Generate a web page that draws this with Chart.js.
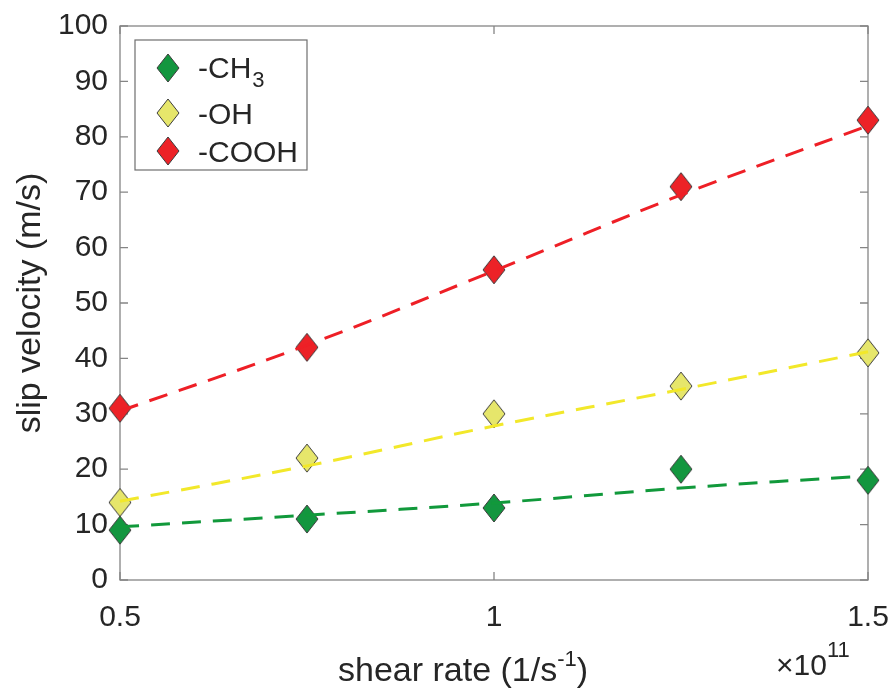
<!DOCTYPE html>
<html>
<head>
<meta charset="utf-8">
<script src="https://cdn.jsdelivr.net/npm/chart.js@4"></script>
<style>
  html, body { margin: 0; padding: 0; background: #fff; }
  #wrap { width: 889px; height: 690px; position: relative; }
</style>
</head>
<body>
<div id="wrap"><canvas id="slipChart" width="889" height="690"></canvas></div>
<script>
// shear rate in units of 1e11 1/s
const shearRate = [0.5, 0.75, 1.0, 1.25, 1.5];

const ch3Slip = [9, 11, 13, 20, 18];
const ohSlip = [14, 22, 30, 35, 41];
const coohSlip = [31, 42, 56, 71, 83];

// dashed fit curves
const ch3Fit = [9.6, 11.7, 13.9, 16.6, 18.8];
const ohFit = [14.2, 20.6, 27.8, 34.4, 41.2];
const coohFit = [30.5, 42.4, 55.8, 69.5, 82.0];

const seriesNames = ['-CH3', '-OH', '-COOH'];
const xTicks = [0.5, 1, 1.5];

const FONT = "'Liberation Sans', Arial, Helvetica, sans-serif";
const TEXT = '#262626';
const AXIS = '#858585';

function makeDiamond(fill) {
    const c = document.createElement('canvas');
    c.width = 24;
    c.height = 30;
    const g = c.getContext('2d');
    g.beginPath();
    g.moveTo(12, 1);
    g.lineTo(23, 15);
    g.lineTo(12, 29);
    g.lineTo(1, 15);
    g.closePath();
    g.fillStyle = fill;
    g.fill();
    g.strokeStyle = '#3c3c3c';
    g.lineWidth = 1;
    g.stroke();
    return c;
}

const markers = [makeDiamond('#13963f'), makeDiamond('#e6e66b'), makeDiamond('#ec2227')];
const lineColors = ['#11993b', '#f2e82a', '#ee1f26'];

function pts(ys) {
    return shearRate.map((x, i) => ({ x: x, y: ys[i] }));
}

function fitSet(ys, color) {
    return {
        data: pts(ys),
        showLine: true,
        borderColor: color,
        borderWidth: 3,
        borderDash: [19, 12],
        pointRadius: 0,
        tension: 0.4,
        clip: false,
        order: 0,
        isFit: true
    };
}

function markerSet(name, ys, img) {
    return {
        label: name,
        data: pts(ys),
        showLine: false,
        pointStyle: img,
        pointRadius: 12,
        clip: false,
        order: 1
    };
}

// box, inward ticks, x title, exponent and legend
const decor = {
    id: 'decor',
    beforeDatasetsDraw(chart) {
        const ctx = chart.ctx;
        const a = chart.chartArea;
        const xs = chart.scales.x;
        const ys = chart.scales.y;
        ctx.save();
        ctx.strokeStyle = AXIS;
        ctx.lineWidth = 1.3;
        ctx.strokeRect(a.left, a.top, a.right - a.left, a.bottom - a.top);
        ctx.beginPath();
        for (let v = 0; v <= 100; v += 10) {
            const py = ys.getPixelForValue(v);
            ctx.moveTo(a.left, py); ctx.lineTo(a.left + 8, py);
            ctx.moveTo(a.right, py); ctx.lineTo(a.right - 8, py);
        }
        xTicks.forEach(v => {
            const px = xs.getPixelForValue(v);
            ctx.moveTo(px, a.bottom); ctx.lineTo(px, a.bottom - 8);
            ctx.moveTo(px, a.top); ctx.lineTo(px, a.top + 8);
        });
        ctx.stroke();
        ctx.restore();
    },
    afterDraw(chart) {
        const ctx = chart.ctx;
        const a = chart.chartArea;
        ctx.save();
        ctx.fillStyle = TEXT;
        ctx.textBaseline = 'alphabetic';

        // x axis title with superscript
        const main = 'shear rate (1/s';
        const sup = '-1';
        ctx.font = '34px ' + FONT;
        const w1 = ctx.measureText(main).width;
        const w3 = ctx.measureText(')').width;
        ctx.font = '22px ' + FONT;
        const w2 = ctx.measureText(sup).width;
        let tx = 338;
        const base = 681;
        ctx.font = '34px ' + FONT;
        ctx.textAlign = 'left';
        ctx.fillText(main, tx, base);
        ctx.font = '22px ' + FONT;
        ctx.fillText(sup, tx + w1, base - 15);
        ctx.font = '34px ' + FONT;
        ctx.fillText(')', tx + w1 + w2, base);

        // exponent
        ctx.font = '30px ' + FONT;
        ctx.fillText('\u00d710', 776, 675);
        const we = ctx.measureText('\u00d710').width;
        ctx.font = '22px ' + FONT;
        ctx.fillText('11', 776 + we, 657);

        // legend
        const lx = 135, ly = 40, lw = 172, lh = 130;
        ctx.fillStyle = '#fff';
        ctx.fillRect(lx, ly, lw, lh);
        ctx.strokeStyle = '#6e6e6e';
        ctx.lineWidth = 1.2;
        ctx.strokeRect(lx, ly, lw, lh);
        const rows = [68, 113, 151];
        const items = chart.data.datasets.filter(d => !d.isFit);
        items.forEach((d, i) => {
            const img = d.pointStyle;
            ctx.drawImage(img, 168 - img.width / 2, rows[i] - img.height / 2);
            ctx.fillStyle = TEXT;
            ctx.font = '30px ' + FONT;
            const name = d.label;
            if (name === '-CH3') {
                ctx.fillText('-CH', 198, rows[i] + 10);
                const wc = ctx.measureText('-CH').width;
                ctx.font = '22px ' + FONT;
                ctx.fillText('3', 198 + wc + 1, rows[i] + 19);
            } else {
                ctx.fillText(name, 198, rows[i] + 11);
            }
        });
        ctx.restore();
    }
};

new Chart(document.getElementById('slipChart'), {
    type: 'scatter',
    data: {
        datasets: [
            fitSet(ch3Fit, lineColors[0]),
            fitSet(ohFit, lineColors[1]),
            fitSet(coohFit, lineColors[2]),
            markerSet(seriesNames[0], ch3Slip, markers[0]),
            markerSet(seriesNames[1], ohSlip, markers[1]),
            markerSet(seriesNames[2], coohSlip, markers[2])
        ]
    },
    options: {
        responsive: false,
        animation: false,
        layout: { padding: { left: 0, top: 26, right: 21, bottom: 0 } },
        plugins: {
            legend: { display: false },
            tooltip: { enabled: false }
        },
        scales: {
            x: {
                type: 'linear',
                min: 0.5,
                max: 1.5,
                grid: { display: false, drawTicks: false },
                border: { display: false },
                afterFit: s => { s.height = 110; s.paddingLeft = 0; s.paddingRight = 0; },
                afterBuildTicks: s => { s.ticks = xTicks.map(v => ({ value: v })); },
                ticks: {
                    padding: 20,
                    color: TEXT,
                    font: { family: FONT, size: 30 },
                    maxRotation: 0,
                    callback: v => String(v)
                }
            },
            y: {
                min: 0,
                max: 100,
                grid: { display: false, drawTicks: false },
                border: { display: false },
                afterFit: s => { s.width = 120; s.paddingTop = 0; s.paddingBottom = 0; },
                ticks: {
                    stepSize: 10,
                    padding: 12,
                    color: TEXT,
                    font: { family: FONT, size: 30 }
                },
                title: {
                    display: true,
                    text: 'slip velocity (m/s)',
                    color: TEXT,
                    font: { family: FONT, size: 34 },
                    padding: { top: 10, bottom: 0 }
                }
            }
        }
    },
    plugins: [decor]
});
</script>
</body>
</html>
